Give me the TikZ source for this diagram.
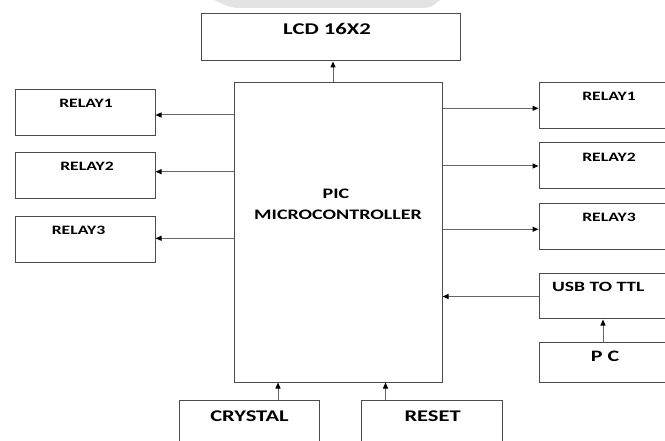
\documentclass[tikz,border=0pt]{standalone}
\usepackage{fontspec}
\setmainfont{Carlito}[FakeStretch=1.38]
\usetikzlibrary{arrows.meta}

\begin{document}
\begin{tikzpicture}[x=1pt, y=-1pt, line width=1pt,
  box/.style={draw=black!70, inner sep=0pt, minimum width=140pt, minimum height=46pt},
  lbl/.style={inner sep=0pt, font=\bfseries\fontsize{#1}{#1}\selectfont},
  lbl/.default=13,
  arr/.style={draw=black!60, -{Triangle[length=6pt, width=5pt, color=black]}}]
\clip (0,0) rectangle (665,441);
\fill[black!11, rounded corners=6pt] (200,-6) -- (232,8) -- (430,8) -- (448,-6) -- cycle;
% blocks
\node[box, minimum width=259pt, minimum height=47pt] (lcd) at (330.5,37.5) {};
\node[box, minimum width=208pt, minimum height=299pt] (pic) at (338,232.5) {};
\node[box] (rl1) at (85,113) {};
\node[box] (rl2) at (85,176) {};
\node[box] (rl3) at (85,240) {};
\node[box] (rr1) at (609,106) {};
\node[box] (rr2) at (609,166) {};
\node[box] (rr3) at (609,227) {};
\node[box, minimum height=45pt] (usb) at (609,296.5) {};
\node[box, minimum height=40pt] (pc) at (609,362) {};
\node[box] (cry) at (249,423) {};
\node[box, minimum width=141pt] (rst) at (431.5,423) {};
% texts
\node[lbl=16.4] (lcdt) at (327,29.3) {LCD 16X2};
\node[lbl=14.5] (pict) at (336,194) {PIC};
\node[lbl=14.5] (mcut) at (338,214.7) {MICROCONTROLLER};
\node[lbl=12.8] (rl1t) at (86,103.3) {RELAY1};
\node[lbl=12.8] (rl2t) at (87,166.7) {RELAY2};
\node[lbl=12.8] (rl3t) at (78.5,230) {RELAY3};
\node[lbl=12.8] (rr1t) at (609,96.7) {RELAY1};
\node[lbl=12.8] (rr2t) at (609,157.3) {RELAY2};
\node[lbl=12.8] (rr3t) at (609,217.3) {RELAY3};
\node[lbl=14.2] (usbt) at (598.3,286.7) {USB TO TTL};
\node[lbl=15.9] (pct) at (605,356.7) {P C};
\node[lbl=16.3] (cryt) at (249.5,416) {CRYSTAL};
\node[lbl=16.3] (rstt) at (432.6,416) {RESET};
% links
\draw[arr] ([xshift=-5pt]pic.north) -- ([xshift=2.5pt]lcd.south);
\draw[arr] ([yshift=-2pt]rl1.east -| pic.west) -- ([yshift=-2pt]rl1.east);
\draw[arr] ([yshift=4.3pt]rl2.east -| pic.west) -- ([yshift=4.3pt]rl2.east);
\draw[arr] ([yshift=1.7pt]rl3.east -| pic.west) -- ([yshift=1.7pt]rl3.east);
\draw[arr] ([yshift=-2.3pt]rr1.west -| pic.east) -- ([yshift=-2.3pt]rr1.west);
\draw[arr] (rr2.west -| pic.east) -- (rr2.west);
\draw[arr] ([yshift=-2.3pt]rr3.west -| pic.east) -- ([yshift=-2.3pt]rr3.west);
\draw[arr] (usb.west) -- (usb.west -| pic.east);
\draw[arr] ([xshift=-6pt]pc.north) -- ([xshift=-6pt]usb.south);
\draw[arr] ([xshift=29pt]cry.north) -- ([xshift=29pt]cry.north |- pic.south);
\draw[arr] ([xshift=-46pt]rst.north) -- ([xshift=-46pt]rst.north |- pic.south);
\end{tikzpicture}
\end{document}
